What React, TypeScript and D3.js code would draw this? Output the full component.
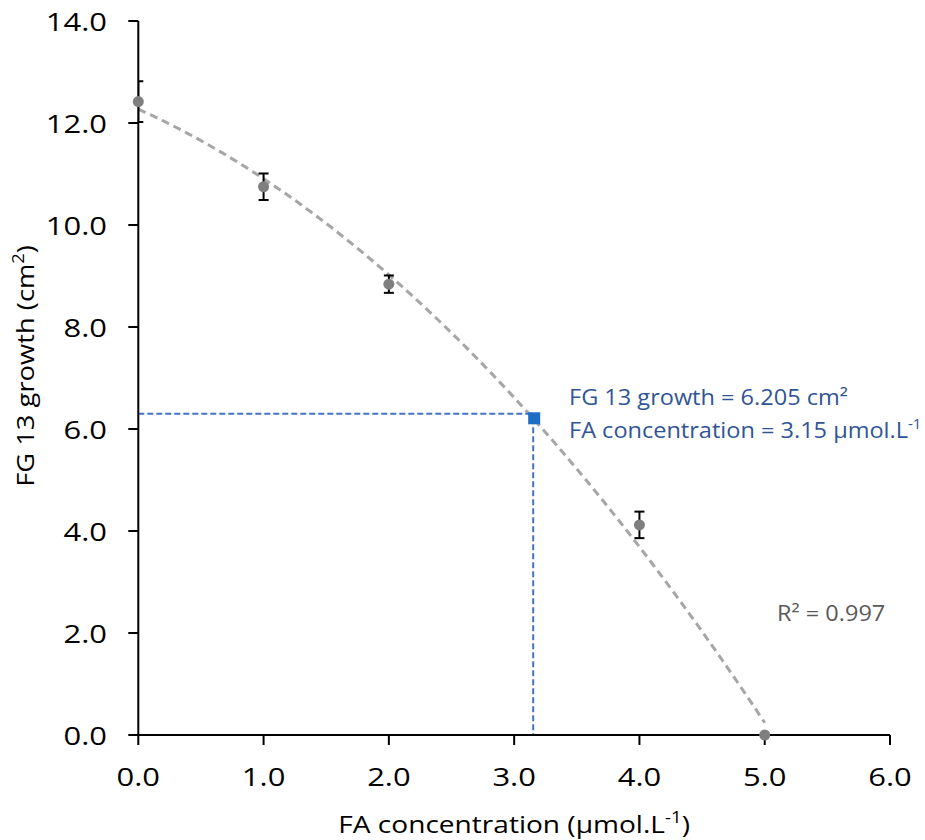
import React from "react";
import * as d3 from "d3";

const concentrations = [0, 1, 2, 4, 5];
const growth = [12.42, 10.75, 8.84, 4.12, 0];
const growthErr = [0.4, 0.26, 0.17, 0.26, 0];
const xTicks = [0, 1, 2, 3, 4, 5, 6];
const yTicks = [0, 2, 4, 6, 8, 10, 12, 14];
const interpolated = { x: 3.16, y: 6.21 };
const guideLevel = 6.3;
const rSquared = "0.997";

const W = 925;
const H = 840;
const FONT = "'Open Sans', Lato, sans-serif";

function quadFit(xs: number[], ys: number[]) {
  const n = xs.length;
  let s1 = 0, s2 = 0, s3 = 0, s4 = 0, t0 = 0, t1 = 0, t2 = 0;
  for (let i = 0; i < n; i++) {
    const x = xs[i], y = ys[i];
    s1 += x; s2 += x * x; s3 += x * x * x; s4 += x * x * x * x;
    t0 += y; t1 += x * y; t2 += x * x * y;
  }
  const M = [
    [n, s1, s2, t0],
    [s1, s2, s3, t1],
    [s2, s3, s4, t2],
  ];
  for (let i = 0; i < 3; i++) {
    for (let k = i + 1; k < 3; k++) {
      const f = M[k][i] / M[i][i];
      for (let j = i; j < 4; j++) M[k][j] -= f * M[i][j];
    }
  }
  const c = [0, 0, 0];
  for (let i = 2; i >= 0; i--) {
    let s = M[i][3];
    for (let j = i + 1; j < 3; j++) s -= M[i][j] * c[j];
    c[i] = s / M[i][i];
  }
  return c;
}

export default function App() {
  const x = d3.scaleLinear().domain([0, 6]).range([138.3, 890]);
  const y = d3.scaleLinear().domain([0, 14]).range([735, 21]);
  const [a, b, c] = quadFit(concentrations, growth);
  const xmin = d3.min(concentrations) as number;
  const xmax = d3.max(concentrations) as number;
  const samples = d3.range(0, 101).map((i) => xmin + ((xmax - xmin) * i) / 100);
  const trend = d3
    .line<number>()
    .x((v) => x(v))
    .y((v) => y(a + b * v + c * v * v))(samples);

  const x0 = x(0);
  const y0 = y(0);
  const SX = 1.17;

  return (
    <svg
      width={W}
      height={H}
      style={{ position: "absolute", left: 0, top: 0, background: "#fff" }}
      fontFamily={FONT}
    >
      <defs>
        <clipPath id="plot">
          <rect x={x0} y={0} width={x(6) - x0 + 10} height={y0} />
        </clipPath>
      </defs>

      {/* trendline */}
      <path
        d={trend || ""}
        fill="none"
        stroke="#a6a6a6"
        strokeWidth={3}
        strokeDasharray="8,5"
      />

      {/* guide lines */}
      <line
        x1={x0}
        x2={x(interpolated.x)}
        y1={y(guideLevel)}
        y2={y(guideLevel)}
        stroke="#4472c4"
        strokeWidth={2}
        strokeDasharray="6,3"
      />
      <line
        x1={x(interpolated.x) - 1}
        x2={x(interpolated.x) - 1}
        y1={y(interpolated.y)}
        y2={y0}
        stroke="#4472c4"
        strokeWidth={2}
        strokeDasharray="6,3"
      />
      <rect
        x={x(interpolated.x) - 6}
        y={y(interpolated.y) - 6}
        width={12}
        height={12}
        fill="#1f6cc4"
      />

      {/* error bars */}
      <g clipPath="url(#plot)" stroke="#000" strokeWidth={2}>
        {concentrations.map((cx, i) =>
          growthErr[i] > 0 ? (
            <g key={i}>
              <line x1={x(cx)} x2={x(cx)} y1={y(growth[i] + growthErr[i])} y2={y(growth[i] - growthErr[i])} />
              <line x1={x(cx) - 5} x2={x(cx) + 5} y1={y(growth[i] + growthErr[i])} y2={y(growth[i] + growthErr[i])} />
              <line x1={x(cx) - 5} x2={x(cx) + 5} y1={y(growth[i] - growthErr[i])} y2={y(growth[i] - growthErr[i])} />
            </g>
          ) : null
        )}
      </g>

      {/* axes */}
      <g stroke="#000" strokeWidth={2}>
        <line x1={x0} x2={x0} y1={y(14)} y2={y0} />
        <line x1={x0} x2={x(6)} y1={y0} y2={y0} />
        {yTicks.map((t) => (
          <line key={"yt" + t} x1={x0 - 10} x2={x0} y1={y(t)} y2={y(t)} />
        ))}
        {xTicks.map((t) => (
          <line key={"xt" + t} x1={x(t)} x2={x(t)} y1={y0} y2={y0 + 10} />
        ))}
      </g>

      {/* points */}
      {concentrations.map((cx, i) => (
        <circle key={i} cx={x(cx)} cy={y(growth[i])} r={5.5} fill="#7f7f7f" />
      ))}

      {/* tick labels */}
      <g fontSize={26} fill="#000">
        {yTicks.map((t) => (
          <text
            key={"yl" + t}
            transform={`translate(107,${y(t)}) scale(1.19,1)`}
            textAnchor="end"
            dominantBaseline="central"
          >
            {t.toFixed(1)}
          </text>
        ))}
        {xTicks.map((t) => (
          <text
            key={"xl" + t}
            transform={`translate(${x(t)},786) scale(1.19,1)`}
            textAnchor="middle"
          >
            {t.toFixed(1)}
          </text>
        ))}
      </g>

      {/* axis titles */}
      <text
        transform={`translate(${(x0 + x(6)) / 2},833) scale(${SX},1)`}
        textAnchor="middle"
        fontSize={24}
        fill="#000"
      >
        FA concentration (µmol.L
        <tspan fontSize={16} dy={-10}>-1</tspan>
        <tspan dy={10}>)</tspan>
      </text>
      <text
        transform={`translate(34,366) rotate(-90) scale(1.14,1)`}
        textAnchor="middle"
        fontSize={24}
        fill="#000"
      >
        FG 13 growth (cm
        <tspan fontSize={16} dy={-10}>2</tspan>
        <tspan dy={10}>)</tspan>
      </text>

      {/* annotations */}
      <g fontSize={22} fill="#2f5597">
        <text transform="translate(569,405) scale(1.07,1)">FG 13 growth = 6.205 cm²</text>
        <text transform="translate(569,438) scale(1.07,1)">
          FA concentration = 3.15 µmol.L
          <tspan fontSize={14} dy={-9}>-1</tspan>
        </text>
      </g>
      <text transform="translate(777,621) scale(1.12,1)" fontSize={21} fill="#595959">
        R² = {rSquared}
      </text>
    </svg>
  );
}
